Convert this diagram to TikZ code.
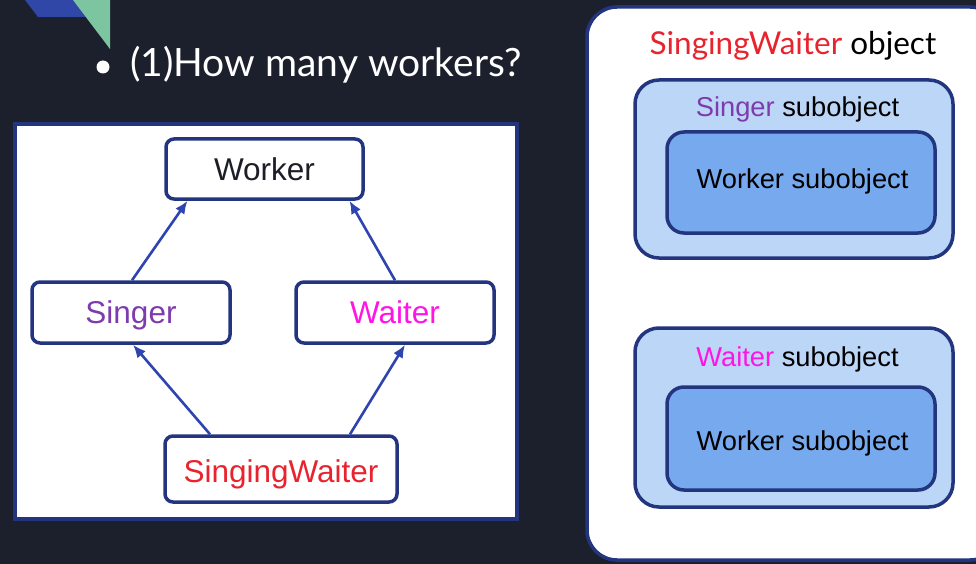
\documentclass[tikz,border=0pt]{standalone}
\usepackage{fontspec}
\setmainfont{Liberation Sans}
\newfontfamily\latofont{Lato}
\usetikzlibrary{arrows.meta}
\definecolor{bgc}{HTML}{1B202C}
\definecolor{navy}{HTML}{24357F}
\definecolor{arrowc}{HTML}{2E44B0}
\definecolor{decoblue}{HTML}{3047A8}
\definecolor{decogreen}{HTML}{7CC5A0}
\definecolor{txtdark}{HTML}{1D1D28}
\definecolor{singerc}{HTML}{7E3BAD}
\definecolor{waiterc}{HTML}{FF14E6}
\definecolor{swred}{HTML}{E9232D}
\definecolor{lightblue}{HTML}{BCD6F7}
\definecolor{midblue}{HTML}{77A9EE}
\tikzset{
  classbox/.style={draw=navy, line width=3.5pt, fill=white, rounded corners=8pt, inner sep=0pt},
  classlabel/.style={anchor=base, inner sep=0pt, font=\fontsize{31.5}{36}\selectfont},
  inherit/.style={draw=arrowc, line width=2.6pt, -{Latex[length=13pt,width=11pt]}},
  subbox/.style={draw=navy, line width=3.5pt, fill=lightblue, rounded corners=24pt, inner sep=0pt},
  innerbox/.style={draw=navy, line width=3.5pt, fill=midblue, rounded corners=17pt, inner sep=0pt},
  sublabel/.style={anchor=base, inner sep=0pt, font=\fontsize{27.3}{32}\selectfont},
}
\begin{document}
\begin{tikzpicture}[x=1pt,y=-1pt]
\useasboundingbox (0,0) rectangle (976,564);
\fill[bgc] (0,0) rectangle (976,564);
% decoration
\fill[decoblue] (25,0) -- (76,0) -- (86,17) -- (38,17) -- cycle;
\fill[decogreen] (73,0) -- (110,0) -- (110,49) -- cycle;
% bullet and title
\fill[white] (103,67) circle (6.5pt);
\node[anchor=base west, inner sep=0pt, text=white, font=\latofont\fontsize{39}{46}\selectfont] (title) at (130,77) {(1)How many workers?};
% left diagram panel
\node[draw=navy, line width=3.5pt, fill=white, minimum width=502pt, minimum height=395pt, inner sep=0pt] (panel) at (266,321.5) {};
\node[classbox, minimum width=197pt, minimum height=60pt] (worker) at (264.5,169) {};
\node[classbox, minimum width=198pt, minimum height=61pt] (singer) at (131,312.5) {};
\node[classbox, minimum width=198pt, minimum height=61pt] (waiter) at (395,312.5) {};
\node[classbox, minimum width=232pt, minimum height=66pt] (sw) at (281,469) {};
\node[classlabel, text=txtdark] (workerlbl) at (264.5,180) {Worker};
\node[classlabel, text=singerc] (singerlbl) at (131,323) {Singer};
\node[classlabel, text=waiterc] (waiterlbl) at (395,323) {Waiter};
\node[classlabel, text=swred] (swlbl) at (281,482) {SingingWaiter};
\draw[inherit] ([xshift=1pt]singer.north) -- ([xshift=-77pt]worker.south);
\draw[inherit] (waiter.north) -- ([xshift=85pt]worker.south);
\draw[inherit] ([xshift=-71pt]sw.north) -- ([xshift=2pt]singer.south);
\draw[inherit] ([xshift=69pt]sw.north) -- ([xshift=10pt]waiter.south);
% right panel
\node[draw=navy, line width=3.5pt, fill=white, rounded corners=30pt, minimum width=413pt, minimum height=553pt, inner sep=0pt] (swobj) at (793.5,283.5) {};
\node[anchor=base, inner sep=0pt, font=\latofont\fontsize{31.5}{38}\selectfont] (swobjlbl) at (793,55) {\textcolor{swred}{SingingWaiter} object};
\node[subbox, minimum width=318pt, minimum height=178pt] (singersub) at (794,169) {};
\node[innerbox, minimum width=268pt, minimum height=101pt] (workersubA) at (801,182.5) {};
\node[sublabel] (singersublbl) at (797.5,117) {\textcolor{singerc}{Singer} subobject};
\node[sublabel] (workersubAlbl) at (802.5,189) {Worker subobject};
\node[subbox, minimum width=318pt, minimum height=179pt] (waitersub) at (794,417.5) {};
\node[innerbox, minimum width=268pt, minimum height=103pt] (workersubB) at (801,438.5) {};
\node[sublabel] (waitersublbl) at (797.5,366) {\textcolor{waiterc}{Waiter} subobject};
\node[sublabel] (workersubBlbl) at (802.5,450) {Worker subobject};
\end{tikzpicture}
\end{document}
